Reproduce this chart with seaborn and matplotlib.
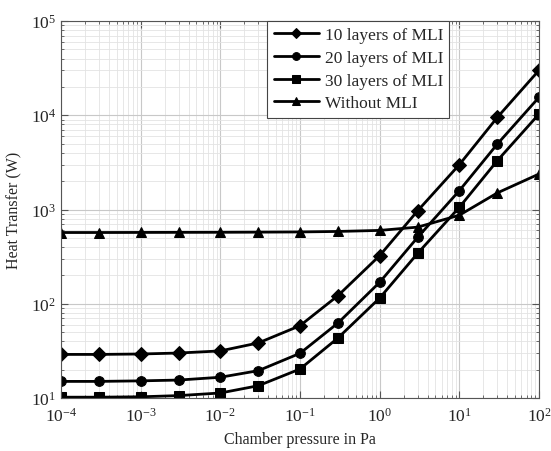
import numpy as np
import pandas as pd
import matplotlib
matplotlib.use("Agg")
import matplotlib.pyplot as plt
import seaborn as sns
from matplotlib.ticker import LogLocator, NullFormatter

pressure = [1e-4, 3e-4, 1e-3, 3e-3, 1e-2, 3e-2, 1e-1, 3e-1, 1, 3, 10, 30, 100]
mli10 = [29, 29, 29.3, 30, 31.6, 38.4, 58.5, 122, 324, 970, 2990, 9500, 30000]
mli20 = [15.0, 15.0, 15.2, 15.5, 16.6, 19.5, 29.8, 62.5, 169, 507, 1585, 4950, 15500]
mli30 = [10.2, 10.2, 10.3, 10.6, 11.3, 13.5, 20.3, 43.4, 115, 343, 1055, 3300, 10300]
nomli = [570, 570, 571, 572, 573, 575, 578, 585, 600, 650, 870, 1500, 2380]
series_names = ["10 layers of MLI", "20 layers of MLI", "30 layers of MLI", "Without MLI"]

frames = []
for name, vals in zip(series_names, [mli10, mli20, mli30, nomli]):
    frames.append(pd.DataFrame({"Pressure": pressure, "Heat": vals, "Series": name}))
df = pd.concat(frames, ignore_index=True)

sns.set_style("ticks")
plt.rcParams["font.family"] = ["Liberation Serif", "DejaVu Serif"]
plt.rcParams["mathtext.fontset"] = "stix"

fig = plt.figure(figsize=(5.51, 4.52), dpi=100)
ax = fig.add_axes([61/551, 1 - 399/452, 478/551, 377/452])

markers = {"10 layers of MLI": "D", "20 layers of MLI": "o",
           "30 layers of MLI": "s", "Without MLI": "^"}
palette = {n: "black" for n in series_names}
sns.lineplot(data=df, x="Pressure", y="Heat", hue="Series", style="Series",
             markers=markers, dashes=False, palette=palette, linewidth=2,
             markersize=7, markeredgecolor="black", ax=ax, hue_order=series_names,
             style_order=series_names)

ax.set_xscale("log")
ax.set_yscale("log")
ax.set_xlim(1e-4, 1e2)
ax.set_ylim(1e1, 1e5)
ax.xaxis.set_major_locator(LogLocator(base=10, numticks=20))
ax.xaxis.set_minor_locator(LogLocator(base=10, subs=np.arange(2, 10), numticks=20))
ax.yaxis.set_minor_locator(LogLocator(base=10, subs=np.arange(2, 10), numticks=20))
ax.xaxis.set_minor_formatter(NullFormatter())
ax.yaxis.set_minor_formatter(NullFormatter())

ax.grid(True, which="major", color="#c8c8c8", linewidth=0.8)
ax.grid(True, which="minor", color="#e3e3e3", linewidth=0.6)
ax.tick_params(which="both", direction="in", top=True, right=True, color="#555555")
ax.tick_params(which="major", length=5, labelsize=12.5)
ax.tick_params(axis="x", which="major", pad=6)
ax.tick_params(which="minor", length=2.5)
for s in ax.spines.values():
    s.set_color("#555555")
    s.set_linewidth(0.8)

ax.set_xlabel("Chamber pressure in Pa", fontsize=11.5, labelpad=5)
ax.set_ylabel("Heat Transfer (W)", fontsize=11.5, labelpad=6)

leg = ax.legend(loc="upper left", bbox_to_anchor=(0.432, 1.0), fontsize=12.5,
                frameon=True, fancybox=False, edgecolor="#444444", framealpha=1,
                handlelength=2.6, borderaxespad=0.0, labelspacing=0.38,
                handletextpad=0.35, borderpad=0.35, markerscale=0.8)
leg.get_frame().set_linewidth(0.8)

fig.savefig("out.png", dpi=100)
